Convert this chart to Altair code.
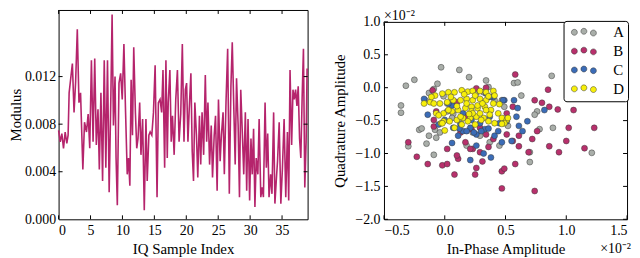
import altair as alt
import pandas as pd

# ---------------- left panel data ----------------
sample_index = [
    0.00, 0.26, 0.51, 0.77, 1.03, 1.29, 1.49, 1.65, 2.16, 2.42, 2.67, 2.93, 3.19, 3.44, 3.80, 4.06, 4.37,
    4.63, 4.88, 5.14, 5.40, 5.66, 5.91, 6.17, 6.38, 6.63, 6.89, 7.15, 7.40, 7.66, 7.92, 8.17, 8.38, 8.59,
    8.84, 9.00, 9.20, 9.46, 9.72, 9.97, 10.23, 10.49, 10.75, 10.95, 11.16, 11.36, 11.57, 11.77, 12.03, 12.24,
    12.44, 12.70, 12.90, 13.16, 13.42, 13.68, 13.88, 14.14, 14.34, 14.60, 14.86, 15.12, 15.42, 15.63, 15.89,
    16.14, 16.35, 16.61, 16.81, 17.02, 17.17, 17.43, 17.64, 17.84, 18.10, 18.35, 18.61, 18.87, 19.13, 19.38,
    19.64, 19.85, 20.05, 20.26, 20.46, 20.72, 20.93, 21.13, 21.34, 21.59, 21.80, 22.06, 22.26, 22.47, 22.72,
    22.98, 23.19, 23.39, 23.65, 23.91, 24.11, 24.37, 24.58, 24.83, 25.04, 25.30, 25.50, 25.76, 25.96, 26.22,
    26.48, 26.74, 26.99, 27.20, 27.46, 27.66, 27.87, 28.12, 28.33, 28.53, 28.79, 29.00, 29.25, 29.46, 29.67,
    29.92, 30.13, 30.33, 30.54, 30.75, 30.95, 31.21, 31.41, 31.67, 31.88, 32.08, 32.34, 32.54, 32.75, 32.96,
    33.21, 33.42, 33.68, 33.88, 34.09, 34.29, 34.55, 34.81, 35.06, 35.32, 35.58, 35.84, 36.04, 36.25, 36.50,
    36.71, 36.92, 37.12, 37.33, 37.53, 37.74, 37.94, 38.15, 38.35, 38.56, 38.77, 38.92,
]
modulus_e3 = [
    7.48, 6.52, 7.21, 5.97, 7.34, 6.38, 7.07, 10.63, 13.10, 8.99, 11.59, 15.97, 9.81, 10.63, 4.19, 8.16, 7.34,
    8.85, 5.97, 13.37, 6.52, 13.51, 6.25, 9.26, 4.19, 10.63, 3.23, 13.37, 4.33, 13.37, 2.27, 9.81, 17.21, 7.89,
    12.00, 5.15, 1.18, 11.45, 12.27, 10.08, 14.74, 8.99, 3.78, 5.15, 2.82, 11.73, 7.07, 14.47, 8.99, 5.97,
    6.79, 9.81, 5.42, 8.44, 0.77, 8.44, 3.23, 7.07, 7.34, 7.07, 8.99, 12.96, 1.86, 9.81, 10.08,
    8.99, 12.55, 4.33, 13.37, 5.15, 9.81, 12.55, 6.52, 8.71, 5.42, 10.08, 12.55, 6.52, 8.85, 14.74,
    6.52, 10.90, 11.45, 6.52, 9.26, 12.27, 5.70, 3.23, 9.81, 7.07, 3.51, 8.71, 4.60, 8.99, 5.42,
    12.14, 6.52, 9.81, 4.60, 7.89, 3.51, 7.07, 8.71, 2.41, 10.08, 4.88, 7.07, 8.99, 3.78, 9.81,
    14.33, 2.14, 11.18, 14.88, 8.99, 4.60, 11.86, 7.89, 1.86, 10.90, 7.07, 3.78, 8.99, 2.41, 8.44,
    1.59, 6.79, 3.78, 7.62, 1.04, 5.15, 3.78, 8.44, 1.86, 2.68, 1.86, 9.81, 4.33, 7.21, 1.86,
    3.78, 2.14, 8.99, 1.32, 3.23, 4.88, 8.16, 1.32, 4.33, 8.44, 1.86, 7.34, 1.59, 12.55, 6.25,
    10.90, 10.08, 10.90, 9.53, 11.18, 6.79, 5.15, 10.36, 14.33, 2.68, 6.52, 12.68,
]
modulus = [v / 1000.0 for v in modulus_e3]

x_ticks_left = [0, 5, 10, 15, 20, 25, 30, 35]
y_ticks_left = [0.000, 0.004, 0.008, 0.012]

# ---------------- right panel data (units of 1e-2) ----------------
categories = ["A", "B", "C", "D"]
colors = ["#a9aea9", "#b8306c", "#3b6cb7", "#f7ef0a"]

a_x = [-0.36, -0.36, -0.32, -0.25, -0.21, -0.19, -0.30, -0.09, -0.13, -0.08, -0.04, -0.03, 0.12, 0.20, -0.13,
       -0.09, -0.06, -0.16, -0.01, 0.02, 0.07, 0.13, 0.34, 0.36, 0.47, 0.57, 0.60, 0.63, 0.88, 0.78, 0.89, 0.76,
       0.74, 0.70, 0.70, 1.21, 0.45, 0.37, 0.52, 0.29, 0.23, -0.15, -0.07, 0.18, 0.02, 0.06, 0.26, 0.41, 0.49, 0.32]
a_y = [-0.27, -0.38, 0.03, 0.12, -0.64, -0.62, -0.89, -1.02, -0.73, -0.64, -0.68, 0.31, 0.27, 0.16, -0.08,
       -0.02, 0.06, -0.19, -0.13, -0.24, -0.40, -0.53, 0.11, 0.01, -0.19, 0.07, 0.08, -0.12, 0.18, -0.63, -0.61,
       -0.36, -0.41, -1.13, -0.98, -0.99, -0.88, -0.83, -0.58, -0.73, -0.68, -0.85, -0.76, -0.88, -0.36, -0.46,
       -0.08, -0.19, -0.29, -0.07]

b_x = [-0.30, -0.23, -0.14, -0.02, 0.02, 0.08, 0.11, 0.02, 0.25, 0.26, 0.31, 0.47, 0.49, 0.47, 0.74, 0.58,
       0.61, 0.69, 0.72, 0.76, 0.86, 0.94, 1.00, 1.02, 1.15, 1.23, 1.06, 0.93, 0.86, 0.80, 0.85, 0.74, 0.58,
       0.56, 0.51, 0.34, 0.18, 0.10, -0.07, -0.09, 0.13, 0.17, 0.23, 0.36, 0.40, 0.51, 0.56, 0.61, 0.29, 0.34,
       0.22, 0.26, -0.10, -0.09, 0.10, 0.21, 0.29]
b_y = [-0.83, -1.05, -1.16, -1.18, -1.16, -1.32, -1.08, -0.93, -1.32, -1.22, -1.12, -1.27, -1.23, -1.53, -1.57,
       -1.16, -0.89, -0.98, -0.78, -0.66, -0.89, -0.98, -0.81, -0.61, -0.92, -0.61, -0.34, -0.33, -0.29, -0.23,
       -0.03, -0.19, 0.20, -0.29, -0.39, 0.00, -0.44, -0.22, -0.36, -0.59, -0.68, -0.83, -0.93, -0.90, -0.78,
       -0.71, -0.81, -0.73, -0.61, -0.71, -0.63, -0.01, -0.04, -0.49, -1.03, -0.93, -0.98]

c_x = [-0.17, -0.14, 0.06, -0.05, 0.06, 0.26, 0.32, 0.38, 0.15, 0.21, 0.26, 0.33, 0.41, 0.47, 0.55, 0.57,
       0.60, 0.59, 0.61, 0.64, 0.68, 0.82, 0.49, 0.40, 0.34, 0.29, 0.11, 0.07, 0.00, 0.03, 0.15, 0.37, 0.45,
       0.51, 0.22, 0.13, 0.21, 0.37, 0.48, 0.18, 0.24, 0.30, 0.36, 0.12, 0.44]
c_y = [-0.17, -0.41, -0.27, -0.56, -0.84, -0.88, -1.00, -1.06, -0.66, -0.61, -0.71, -0.63, -0.73, -0.83, -0.81,
       -0.19, -0.31, -0.44, -0.58, -0.66, -0.51, -0.34, -0.19, -0.14, -0.09, -0.54, -0.73, -0.61, -0.49, -0.24,
       -0.39, -0.44, -0.54, -0.51, -0.49, -0.56, -1.10, -0.14, -0.19, -0.66, -0.68, -0.66, -0.62, -0.62, -0.66]

d_x = [-0.08, -0.02, 0.03, 0.08, 0.14, 0.19, 0.23, 0.29, 0.34, 0.40, 0.41, -0.04, 0.02, 0.07, 0.13, 0.18, 0.23,
       0.29, 0.34, 0.40, -0.07, -0.01, 0.06, 0.11, 0.17, 0.22, 0.27, 0.33, 0.38, 0.44, -0.01, 0.04, 0.10, 0.15,
       0.21, 0.26, 0.32, 0.37, 0.47, 0.51, 0.00, -0.03, 0.08, 0.14, 0.19, 0.25, 0.30, 0.36, 0.41, 0.49, -0.17,
       -0.12, 0.27, 0.22, 0.18, 0.23, 0.29, 0.13, 0.34, 0.03, -0.11, -0.09, -0.05, -0.02, 0.52, 0.10, 0.20,
       0.31, 0.25, 0.05, 0.36, 0.16, 0.45, 0.47]
d_y = [-0.12, -0.09, -0.07, -0.07, -0.04, -0.06, -0.05, -0.05, -0.07, -0.05, -0.12, -0.24, -0.22, -0.19, -0.19,
       -0.17, -0.19, -0.17, -0.19, -0.24, -0.39, -0.39, -0.36, -0.34, -0.31, -0.29, -0.31, -0.29, -0.34, -0.39,
       -0.51, -0.51, -0.49, -0.46, -0.46, -0.44, -0.46, -0.41, -0.46, -0.49, -0.65, -0.54, -0.61, -0.56, -0.51,
       -0.56, -0.49, -0.51, -0.54, -0.54, -0.24, -0.22, -0.27, -0.36, -0.24, -0.39, -0.39, -0.44, -0.34, -0.34,
       -0.14, -0.24, -0.42, -0.54, -0.46, -0.28, -0.40, -0.24, -0.12, -0.14, -0.13, -0.10, -0.25, -0.55]

x_ticks_right = [-0.5, 0.0, 0.5, 1.0, 1.5]
y_ticks_right = [-2.0, -1.5, -1.0, -0.5, 0.0, 0.5, 1.0]
offset_label = ["×10⁻²"]

# ---------------- styling ----------------
FONT = "Liberation Serif"
LINE_COLOR = "#b5246c"
LW, LH = 251, 211
RW, RH = 245, 199
TOP_TEXT_H = 12
TICK = 4

# three-marker legend symbol (matplotlib scatterpoints=3)
LEGEND_SYMBOL = (
    "M-2.1,0A0.5,0.5 0 1,0 -1.1,0A0.5,0.5 0 1,0 -2.1,0Z "
    "M-0.5,-0.17A0.5,0.5 0 1,0 0.5,-0.17A0.5,0.5 0 1,0 -0.5,-0.17Z "
    "M1.1,0.12A0.5,0.5 0 1,0 2.1,0.12A0.5,0.5 0 1,0 1.1,0.12Z"
)

# shared axis definitions (reused by the tick layers so the merged axis keeps them)
ax_left_x = alt.Axis(values=x_ticks_left, format="d", title="IQ Sample Index")
ax_left_y = alt.Axis(values=y_ticks_left, format=".3f", title="Modulus", labelPadding=3, titlePadding=1)
ax_right_x = alt.Axis(values=x_ticks_right, format=".1f", title="In-Phase Amplitude")
ax_right_y = alt.Axis(values=y_ticks_right, format=".1f", title="Quadrature Amplitude",
                      labelPadding=4, titlePadding=7)


def inner_ticks(xfield, yfield, xvals, yvals, xaxis, yaxis, w, h):
    """Matplotlib-classic inward tick marks on all four sides (share the panel's scales)."""
    xdf = pd.DataFrame({xfield: xvals})
    ydf = pd.DataFrame({yfield: yvals})
    rule = dict(color="black", strokeWidth=1)
    xenc = alt.X(f"{xfield}:Q", axis=xaxis)
    yenc = alt.Y(f"{yfield}:Q", axis=yaxis)
    return [
        alt.Chart(xdf).mark_rule(**rule).encode(x=xenc, y=alt.value(h), y2=alt.value(h - TICK)),
        alt.Chart(xdf).mark_rule(**rule).encode(x=xenc, y=alt.value(0), y2=alt.value(TICK)),
        alt.Chart(ydf).mark_rule(**rule).encode(y=yenc, x=alt.value(0), x2=alt.value(TICK)),
        alt.Chart(ydf).mark_rule(**rule).encode(y=yenc, x=alt.value(w), x2=alt.value(w - TICK)),
    ]


# ---------------- left panel ----------------
line_df = pd.DataFrame({"idx": sample_index, "mod": modulus})
left_line = alt.Chart(line_df).mark_line(color=LINE_COLOR, strokeWidth=1.6).encode(
    x=alt.X("idx:Q", scale=alt.Scale(domain=[0, 39], nice=False, zero=False), axis=ax_left_x),
    y=alt.Y("mod:Q", scale=alt.Scale(domain=[0, 0.0176], nice=False), axis=ax_left_y),
)
left = alt.layer(
    left_line, *inner_ticks("idx", "mod", x_ticks_left, y_ticks_left[1:], ax_left_x, ax_left_y, LW, LH)
).properties(width=LW, height=LH)

# ---------------- right panel ----------------
frames = []
for cat, xs, ys in zip(categories, [a_x, b_x, c_x, d_x], [a_y, b_y, c_y, d_y]):
    frames.append(pd.DataFrame({"ip": xs, "qd": ys, "cat": cat}))
sc_df = pd.concat(frames, ignore_index=True)

points = alt.Chart(sc_df).mark_circle(size=36, opacity=1, stroke="#3a3a3a", strokeWidth=0.5).encode(
    x=alt.X("ip:Q", scale=alt.Scale(domain=[-0.5, 1.5], nice=False, zero=False), axis=ax_right_x),
    y=alt.Y("qd:Q", scale=alt.Scale(domain=[-2.0, 1.0], nice=False, zero=False), axis=ax_right_y),
    color=alt.Color("cat:N", scale=alt.Scale(domain=categories, range=colors),
                    legend=alt.Legend(title=None, orient="none", legendX=181, legendY=11,
                                      symbolType=LEGEND_SYMBOL, symbolSize=144, symbolOffset=9,
                                      symbolStrokeColor="#333333", symbolStrokeWidth=0.5, symbolOpacity=1,
                                      labelFont=FONT, labelFontSize=15, labelColor="black", labelOffset=22,
                                      strokeColor="black", fillColor="white", padding=4, cornerRadius=3,
                                      rowPadding=3)),
)

off_df = pd.DataFrame({"lbl": offset_label})
bot_off = alt.Chart(off_df).mark_text(align="right", baseline="alphabetic", font=FONT, fontSize=14,
                                      color="black").encode(
    text="lbl:N", x=alt.value(RW + 4), y=alt.value(RH + 34))

right_plot = alt.layer(
    points, *inner_ticks("ip", "qd", x_ticks_right, y_ticks_right, ax_right_x, ax_right_y, RW, RH), bot_off
).properties(width=RW, height=RH)

# offset text above the scatter panel, in its own strip
top_off = alt.Chart(off_df).mark_text(align="left", baseline="alphabetic", font=FONT, fontSize=14,
                                      color="black").encode(
    text="lbl:N", x=alt.value(0), y=alt.value(TOP_TEXT_H - 2)
).properties(width=RW, height=TOP_TEXT_H, view=alt.ViewConfig(strokeWidth=0))

right = alt.vconcat(top_off, right_plot, spacing=0, bounds="flush")

chart = alt.hconcat(left, right, spacing=21).resolve_legend(color="independent").properties(
    padding={"left": 0, "top": 0, "right": 0, "bottom": 0}
).configure_view(
    stroke="black", strokeWidth=1
).configure_axis(
    labelFont=FONT, labelFontSize=14, labelColor="black",
    titleFont=FONT, titleFontSize=15, titleFontWeight="normal", titleColor="black",
    domain=False, ticks=False, tickSize=0, grid=False, labelPadding=4, titlePadding=4,
)

chart.save("out.html", embed_options={"renderer": "svg", "actions": False})
